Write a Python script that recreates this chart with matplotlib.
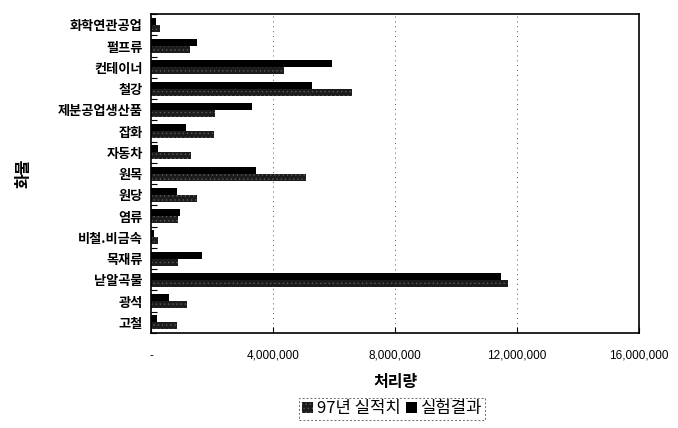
import numpy as np
import matplotlib
matplotlib.use('Agg')
import matplotlib.pyplot as plt
from matplotlib.ticker import FuncFormatter, FixedLocator

plt.rcParams['font.family'] = ['Noto Sans CJK KR', 'DejaVu Sans']
plt.rcParams['hatch.linewidth'] = 0.5

# categories listed top to bottom as in the chart
categories = ['화학연관공업', '펄프류', '컨테이너', '철강', '제분공업생산품', '잡화', '자동차',
              '원목', '원당', '염류', '비철.비금속', '목재류', '낟알곡물', '광석', '고철']
actual_97 = [300000, 1270000, 4360000, 6590000, 2110000, 2050000, 1320000,
             5090000, 1520000, 880000, 220000, 900000, 11700000, 1180000, 860000]
experiment = [170000, 1500000, 5940000, 5270000, 3300000, 1160000, 230000,
              3440000, 860000, 940000, 100000, 1670000, 11470000, 600000, 200000]
xticks = [0, 4000000, 8000000, 12000000, 16000000]

# barh draws bottom-up, so reverse
cats = categories[::-1]
a97 = actual_97[::-1]
exp = experiment[::-1]
y = np.arange(len(cats))
h = 0.33

fig = plt.figure(figsize=(6.78, 4.28), dpi=100)
ax = fig.add_axes([0.2227, 0.222, 0.72, 0.745])

ax.barh(y - h / 2, a97, height=h, color='#1c1c1c', edgecolor='#5a5a5a',
        hatch='....', linewidth=0, label='97년 실적치')
ax.barh(y + h / 2, exp, height=h, color='black', linewidth=0, label='실험결과')

ax.set_xlim(0, 16000000)
ax.set_ylim(-0.5, len(cats) - 0.5)
ax.set_xticks(xticks)
ax.xaxis.set_major_formatter(FuncFormatter(lambda v, p: '-' if v == 0 else f'{int(v):,}'))
ax.set_yticks(y)
ax.set_yticklabels(cats, fontsize=9.5, fontweight='bold')
ax.yaxis.set_minor_locator(FixedLocator(np.arange(-0.5, len(cats), 1)))
ax.tick_params(axis='y', which='major', length=0, pad=6)
ax.tick_params(axis='y', which='minor', direction='in', length=4, width=0.8)
ax.tick_params(axis='x', direction='in', length=4, width=0.8, pad=12, labelsize=8.5)
for lab in ax.get_xticklabels():
    lab.set_fontfamily(['Liberation Sans', 'DejaVu Sans'])

ax.grid(axis='x', color='#555555', linestyle=(0, (1, 4)), linewidth=0.7)
ax.set_axisbelow(True)
for s in ax.spines.values():
    s.set_linewidth(1.2)

ax.set_xlabel('처리량', fontsize=11.5, fontweight='bold')
ax.xaxis.set_label_coords(0.5, -0.13)
ax.set_ylabel('화물', fontsize=11.5, fontweight='bold')
ax.yaxis.set_label_coords(-0.245, 0.5)

leg = fig.legend(loc='center', bbox_to_anchor=(0.578, 0.045), ncol=2, fontsize=12,
                 frameon=True, fancybox=False, handlelength=0.7, handleheight=0.7,
                 handletextpad=0.2, columnspacing=0.3, borderpad=0.15)
leg.get_frame().set_edgecolor('#444444')
leg.get_frame().set_linestyle((0, (2, 2)))
leg.get_frame().set_linewidth(0.7)

fig.savefig('out.png', dpi=100)
